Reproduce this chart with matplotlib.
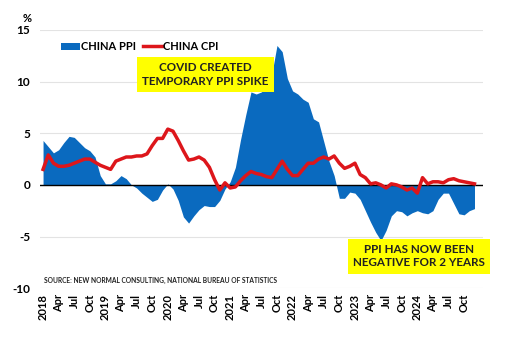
import numpy as np
import matplotlib
matplotlib.use("Agg")
import matplotlib.pyplot as plt
from matplotlib.patches import Patch
from matplotlib.lines import Line2D

# monthly YoY %, Jan 2018 - Dec 2024
ppi = [4.3, 3.7, 3.1, 3.4, 4.1, 4.7, 4.6, 4.1, 3.6, 3.3, 2.7, 0.9,
       0.1, 0.1, 0.4, 0.9, 0.6, 0.0, -0.3, -0.8, -1.2, -1.6, -1.4, -0.5,
       0.1, -0.4, -1.5, -3.1, -3.7, -3.0, -2.4, -2.0, -2.1, -2.1, -1.5, -0.4,
       0.3, 1.7, 4.4, 6.8, 9.0, 8.8, 9.0, 9.5, 10.7, 13.5, 12.9, 10.3,
       9.1, 8.8, 8.3, 8.0, 6.4, 6.1, 4.2, 2.3, 0.9, -1.3, -1.3, -0.7,
       -0.8, -1.4, -2.5, -3.6, -4.6, -5.4, -4.4, -3.0, -2.5, -2.6, -3.0, -2.7,
       -2.5, -2.7, -2.8, -2.5, -1.4, -0.8, -0.8, -1.8, -2.8, -2.9, -2.5, -2.3]
cpi = [1.5, 2.9, 2.1, 1.8, 1.8, 1.9, 2.1, 2.3, 2.5, 2.5, 2.2, 1.9,
       1.7, 1.5, 2.3, 2.5, 2.7, 2.7, 2.8, 2.8, 3.0, 3.8, 4.5, 4.5,
       5.4, 5.2, 4.3, 3.3, 2.4, 2.5, 2.7, 2.4, 1.7, 0.5, -0.5, 0.2,
       -0.3, -0.2, 0.4, 0.9, 1.3, 1.1, 1.0, 0.8, 0.7, 1.5, 2.3, 1.5,
       0.9, 0.9, 1.5, 2.1, 2.1, 2.5, 2.7, 2.5, 2.8, 2.1, 1.6, 1.8,
       2.1, 1.0, 0.7, 0.1, 0.2, 0.0, -0.3, 0.1, 0.0, -0.2, -0.5, -0.3,
       -0.8, 0.7, 0.1, 0.3, 0.3, 0.2, 0.5, 0.6, 0.4, 0.3, 0.2, 0.1]
years = ["2018", "2019", "2020", "2021", "2022", "2023", "2024"]
months = ["Apr", "Jul", "Oct"]

BLUE = "#0A6ABF"
RED = "#DD161B"
FONT = "Lato"

x = np.arange(len(ppi))
tick_pos = np.arange(0, len(ppi), 3)
tick_lab = []
for y in years:
    tick_lab += [y] + months

fig = plt.figure(figsize=(5.12, 3.37), dpi=100)
ax = fig.add_axes([0.078, 0.145, 0.865, 0.766])

ax.fill_between(x, ppi, 0, color=BLUE, linewidth=0, zorder=2)
ax.plot(x, cpi, color=RED, linewidth=2.5, zorder=4)
ax.axhline(0, color="black", linewidth=1.0, zorder=3)

ax.set_xlim(-0.6, 84.6)
ax.set_ylim(-10, 15)
ax.set_yticks([-10, -5, 0, 5, 10, 15])
ax.set_yticklabels(["-10", "-5", "0", "5", "10", "15"],
                   fontfamily=FONT, fontweight="bold", fontsize=8.5)
ax.set_xticks(tick_pos)
ax.set_xticklabels(tick_lab, rotation=90, fontfamily=FONT,
                   fontweight="bold", fontsize=8)
ax.tick_params(axis="x", length=0, pad=4)
ax.tick_params(axis="y", length=0, pad=7)
ax.grid(axis="y", color="#e3e3e3", linewidth=0.8, zorder=0)
for sp in ax.spines.values():
    sp.set_visible(False)

fig.text(0.045, 0.935, "%", fontfamily=FONT, fontweight="bold", fontsize=8)

handles = [Patch(facecolor=BLUE, edgecolor="none"),
           Line2D([0], [0], color=RED, linewidth=2.5)]
ax.legend(handles, ["CHINA PPI", "CHINA CPI"], loc="upper left",
          bbox_to_anchor=(0.025, 0.995), ncol=2, frameon=False,
          prop={"family": FONT, "weight": "bold", "size": 8},
          handlelength=1.7, handletextpad=0.1, columnspacing=0.6)

box = dict(boxstyle="square,pad=0.45", facecolor="#FFFF00", edgecolor="none")
ax.text(31.2, 10.7, "COVID CREATED\nTEMPORARY PPI SPIKE", ha="center",
        va="center", fontfamily=FONT, fontweight="bold", fontsize=8.4,
        color="#222222", bbox=box, zorder=5, linespacing=1.25)
ax.text(72.3, -6.9, "PPI HAS NOW BEEN\nNEGATIVE FOR 2 YEARS", ha="center",
        va="center", fontfamily=FONT, fontweight="bold", fontsize=8.4,
        color="#222222", bbox=box, zorder=5, linespacing=1.25)
ax.text(0.2, -9.25, "SOURCE: NEW NORMAL CONSULTING, NATIONAL BUREAU OF STATISTICS",
        ha="left", va="center", fontfamily=FONT, fontweight="bold",
        fontsize=4.8, color="#222222")

fig.savefig("out.png", dpi=100)
